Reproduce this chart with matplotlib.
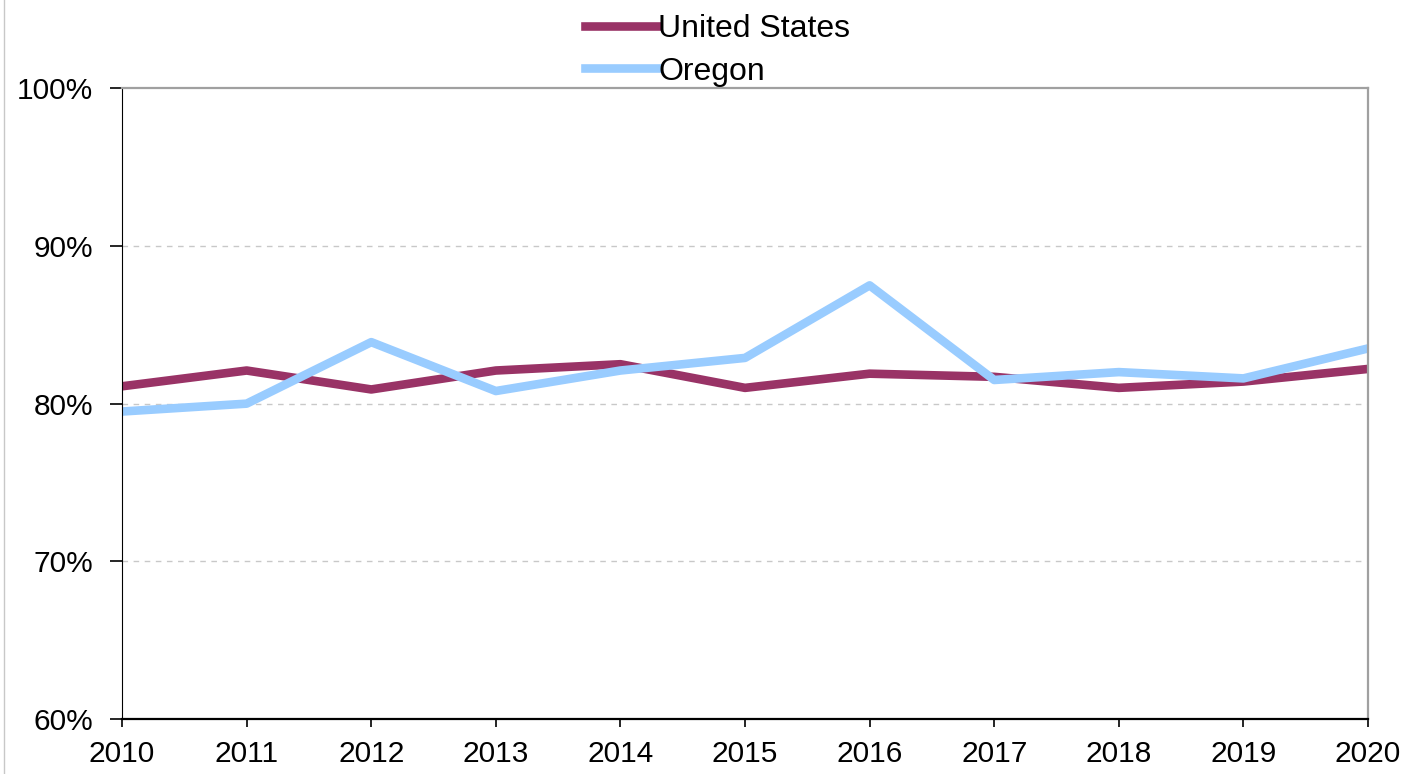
import matplotlib.pyplot as plt
from matplotlib.lines import Line2D
from matplotlib.ticker import FuncFormatter

plt.rcParams['font.family'] = ['Liberation Sans', 'DejaVu Sans']

years = [2010, 2011, 2012, 2013, 2014, 2015, 2016, 2017, 2018, 2019, 2020]
us = [81.1, 82.1, 80.9, 82.1, 82.5, 81.0, 81.9, 81.7, 81.0, 81.4, 82.2]
oregon = [79.5, 80.0, 83.9, 80.8, 82.1, 82.9, 87.5, 81.5, 82.0, 81.6, 83.5]

us_color = "#993366"
or_color = "#99ccff"

fig = plt.figure(figsize=(14.21, 7.74), dpi=100)
ax = fig.add_axes([0.0859, 0.071, 0.8768, 0.815])

ax.plot(years, us, color=us_color, lw=6.2, label="United States")
ax.plot(years, oregon, color=or_color, lw=6.2, label="Oregon")

ax.set_xlim(2010, 2020)
ax.set_ylim(60, 100)
ax.set_xticks(years)
ax.set_yticks([60, 70, 80, 90, 100])
ax.yaxis.set_major_formatter(FuncFormatter(lambda v, p: f"{v:.0f}%"))
ax.tick_params(axis="both", labelsize=21.5, direction="out", width=1.2)
ax.tick_params(axis="y", length=9, pad=12)
ax.tick_params(axis="x", length=6, pad=9)

# dashed gridlines
for yv in [70, 80, 90]:
    ax.axhline(yv, color="#c8c8c8", lw=1, ls=(0, (4, 4)), zorder=0)

ax.spines["left"].set_color("black")
ax.spines["bottom"].set_color("black")
ax.spines["bottom"].set_linewidth(1.6)
ax.spines["top"].set_color("#a0a0a0")
ax.spines["right"].set_color("#a0a0a0")
ax.spines["top"].set_linewidth(1.6)
ax.spines["right"].set_linewidth(1.6)

fig.legend(loc="upper center", bbox_to_anchor=(0.505, 1.0), ncol=1, frameon=False,
           fontsize=23, handlelength=2.3, handletextpad=0.0, labelspacing=0.38,
           borderaxespad=0.05)

# thin frame line at the left edge of the image
fig.add_artist(Line2D([0.003, 0.003], [0, 1], transform=fig.transFigure,
                      color="#c8c8c8", lw=1))

fig.savefig("out.png", dpi=100)
